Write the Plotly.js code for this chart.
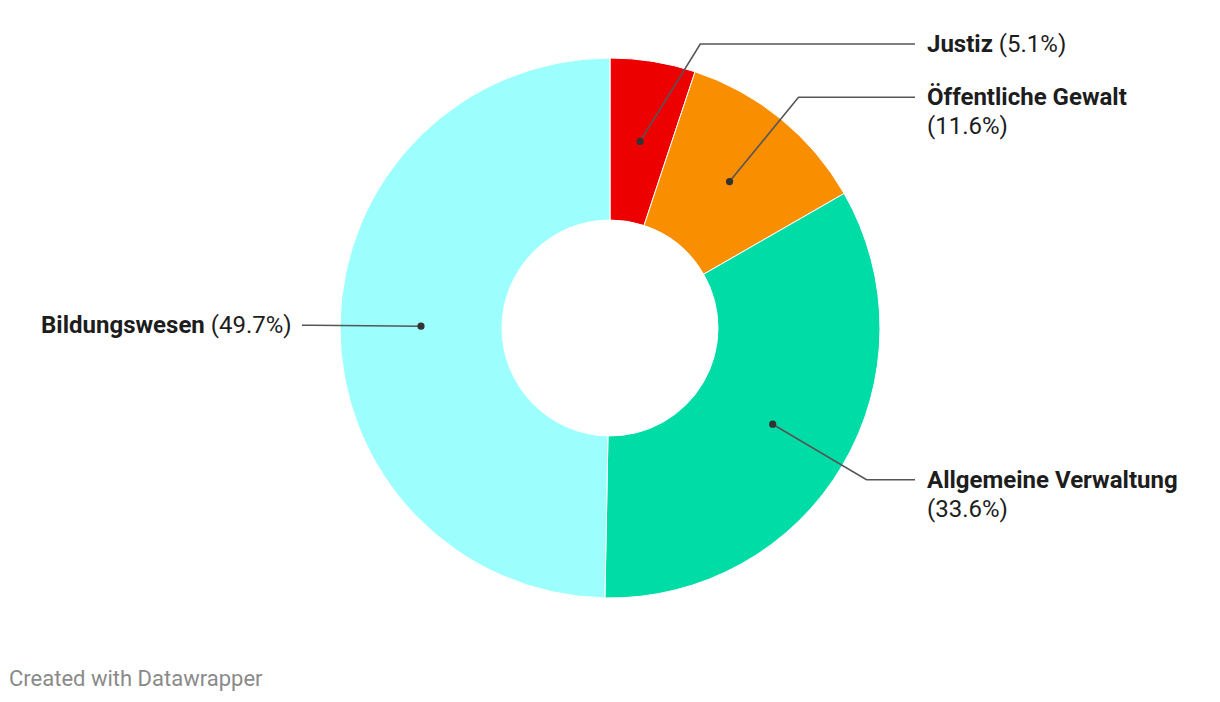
<!DOCTYPE html>
<html>
<head>
<meta charset="utf-8">
<script src="https://cdn.plot.ly/plotly-3.0.1.min.js"></script>
<style>html,body{margin:0;padding:0;background:#fff;}#chart{width:1220px;height:702px;}</style>
</head>
<body>
<div id="chart"></div>
<script>
// ---- data ----
const categories = ["Justiz", "Öffentliche Gewalt", "Allgemeine Verwaltung", "Bildungswesen"];
const values = [5.1, 11.6, 33.6, 49.7];
const percentLabels = ["(5.1%)", "(11.6%)", "(33.6%)", "(49.7%)"];
const wrapLabel = [false, true, true, false];
const colors = ["#ec0000", "#f88e00", "#00dca6", "#9cfffd"];

// ---- layout constants (pixels) ----
const W = 1220, H = 702;
const CX = 610, CY = 328, R = 270, HOLE = 0.4;
const R_DOT = R * (1 + HOLE) / 2;
const R_ELBOW = 298;
const MIN_LABEL_Y = 44;
const FONT = "Roboto, 'Noto Sans', sans-serif";
const FS = 24;
const LINE_H = 29;

const px = x => x / W;
const py = y => 1 - y / H;

const total = values.reduce((a, b) => a + b, 0);
let cum = 0;
const shapes = [], annotations = [];
values.forEach((v, i) => {
  const mid = (cum + v / 2) / total * 2 * Math.PI; // clockwise from top
  cum += v;
  const s = Math.sin(mid), c = Math.cos(mid);
  const dx = CX + R_DOT * s, dy = CY - R_DOT * c;
  const right = s >= 0;
  let ly = CY - R_ELBOW * c;
  if (ly < MIN_LABEL_Y) ly = MIN_LABEL_Y;
  const ex = CX + (right ? 1 : -1) * Math.sqrt(Math.max(0, R_ELBOW * R_ELBOW - (ly - CY) * (ly - CY)));
  const endX = right ? 915 : 302;
  shapes.push({
    type: "path", xref: "paper", yref: "paper",
    path: `M ${px(dx)},${py(dy)} L ${px(ex)},${py(ly)} L ${px(endX)},${py(ly)}`,
    line: {color: "#555", width: 1.6}
  });
  const rr = 3.6;
  shapes.push({
    type: "circle", xref: "paper", yref: "paper",
    x0: px(dx - rr), x1: px(dx + rr), y0: py(dy + rr), y1: py(dy - rr),
    fillcolor: "#333", line: {color: "#333", width: 0}
  });
  const tx = px(right ? endX + 10 : endX - 8);
  const base = {
    xref: "paper", yref: "paper", x: tx,
    xanchor: right ? "left" : "right", yanchor: "middle",
    align: "left", showarrow: false,
    font: {family: FONT, size: FS, color: "#1d1d1d"}
  };
  if (wrapLabel[i]) {
    annotations.push(Object.assign({}, base, {y: py(ly), text: `<b>${categories[i]}</b>`}));
    annotations.push(Object.assign({}, base, {y: py(ly + LINE_H), text: percentLabels[i]}));
  } else {
    annotations.push(Object.assign({}, base, {y: py(ly), text: `<b>${categories[i]}</b> ${percentLabels[i]}`}));
  }
});

annotations.push({
  xref: "paper", yref: "paper", x: px(7), y: py(678), xanchor: "left", yanchor: "middle",
  text: "Created with Datawrapper", showarrow: false,
  font: {family: FONT, size: 22, color: "#8a8a8a"}
});

const trace = {
  type: "pie",
  labels: categories,
  values: values,
  hole: HOLE,
  sort: false,
  direction: "clockwise",
  rotation: 0,
  textinfo: "none",
  hoverinfo: "label+percent",
  marker: {colors: colors, line: {color: "#ffffff", width: 1}},
  domain: {x: [px(CX - R), px(CX + R)], y: [py(CY + R), py(CY - R)]},
  showlegend: false
};

const layout = {
  width: W, height: H,
  margin: {l: 0, r: 0, t: 0, b: 0},
  paper_bgcolor: "#ffffff",
  plot_bgcolor: "#ffffff",
  showlegend: false,
  shapes: shapes,
  annotations: annotations
};

Plotly.newPlot("chart", [trace], layout, {displayModeBar: false, staticPlot: true});
</script>
</body>
</html>
